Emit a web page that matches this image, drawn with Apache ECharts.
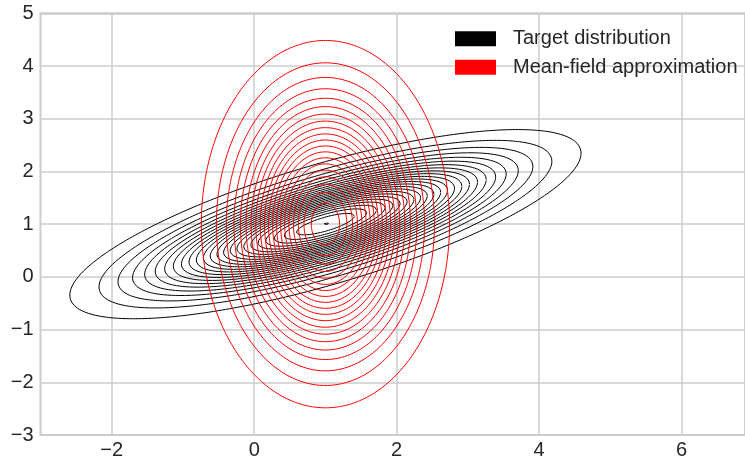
<!DOCTYPE html>
<html>
<head>
<meta charset="utf-8">
<script src="https://cdn.jsdelivr.net/npm/echarts@6/dist/echarts.min.js"></script>
<style>
html,body{margin:0;padding:0;background:#fff;}
#chart{width:745px;height:460px;}
</style>
</head>
<body>
<div id="chart"></div>
<script>
// ---- data ----
const targetName = 'Target distribution';
const approxName = 'Mean-field approximation';
const targetMean = [1, 1];
const targetCov = [[2.0, 0.75], [0.75, 0.5]];
const approxMean = [1, 1];
const approxVar = [0.5, 2.0];
const targetLevels = [0.00962, 0.01924, 0.02886, 0.03848, 0.0481, 0.05772, 0.06734, 0.07696, 0.08658, 0.0962,
  0.10582, 0.11544, 0.12506, 0.13468, 0.1443, 0.15392, 0.16354, 0.17316, 0.18278, 0.1924,
  0.20202, 0.21164, 0.22126, 0.23088, 0.2405];
const approxLevels = [0.00765, 0.0153, 0.02295, 0.0306, 0.03825, 0.0459, 0.05355, 0.0612, 0.06885, 0.0765,
  0.08415, 0.0918, 0.09945, 0.1071, 0.11475, 0.1224, 0.13005, 0.1377, 0.14535, 0.153];
const xTicks = [-2, 0, 2, 4, 6];
const yTicks = [-3, -2, -1, 0, 1, 2, 3, 4, 5];

// ---- contour ellipses of a Gaussian density at given levels ----
function contours(mean, cov, levels) {
  const det = cov[0][0] * cov[1][1] - cov[0][1] * cov[1][0];
  const peak = 1 / (2 * Math.PI * Math.sqrt(det));
  const l11 = Math.sqrt(cov[0][0]);
  const l21 = cov[1][0] / l11;
  const l22 = Math.sqrt(cov[1][1] - l21 * l21);
  const n = 360;
  return levels.map(function (lv) {
    const d = Math.sqrt(2 * Math.log(peak / lv));
    const pts = [];
    for (let i = 0; i <= n; i++) {
      const t = 2 * Math.PI * i / n;
      const c = Math.cos(t), s = Math.sin(t);
      pts.push([mean[0] + d * l11 * c, mean[1] + d * (l21 * c + l22 * s)]);
    }
    return pts;
  });
}

const targetCurves = contours(targetMean, targetCov, targetLevels);
const approxCurves = contours(approxMean, [[approxVar[0], 0], [0, approxVar[1]]], approxLevels);

function mkSeries(name, color, curves) {
  return curves.map(function (pts) {
    return {
      name: name, type: 'line', data: pts, showSymbol: false, symbol: 'none',
      smooth: false, silent: true, animation: false, clip: true,
      lineStyle: { color: color, width: 1 }, itemStyle: { color: color }
    };
  });
}

const series = mkSeries(targetName, '#000000', targetCurves)
  .concat(mkSeries(approxName, '#ff0000', approxCurves));

const font = 'Liberation Sans, Arial, sans-serif';
const txt = '#262626';
const fmt = function (v) { return String(v).replace('-', '\u2212'); };

const chart = echarts.init(document.getElementById('chart'), null, { renderer: 'canvas' });
chart.setOption({
  animation: false,
  backgroundColor: '#ffffff',
  grid: {
    left: 40.5, right: -2, top: 13.3, bottom: 23.3,
    show: true, borderColor: '#cccccc', borderWidth: 2, backgroundColor: 'transparent'
  },
  legend: {
    data: [targetName, approxName],
    orient: 'vertical', left: 450, top: 23.8,
    icon: 'rect', itemWidth: 41, itemHeight: 15, itemGap: 8.4,
    textStyle: { fontFamily: font, fontSize: 20, color: txt, lineHeight: 20, padding: [0, 0, 0, 12] },
    selectedMode: false
  },
  xAxis: {
    type: 'value', min: -3, max: 6.89,
    axisLine: { show: false },
    axisTick: { show: false, customValues: xTicks },
    axisLabel: { customValues: xTicks, formatter: fmt, fontFamily: font, fontSize: 20, color: txt, margin: 5 },
    splitLine: { show: true, lineStyle: { color: '#cccccc', width: 1.5 } }
  },
  yAxis: {
    type: 'value', min: -3, max: 5, interval: 1,
    axisLine: { show: false },
    axisTick: { show: false, customValues: yTicks },
    axisLabel: { customValues: yTicks, formatter: fmt, fontFamily: font, fontSize: 20, color: txt, margin: 7 },
    splitLine: { show: true, lineStyle: { color: '#cccccc', width: 1.5 } }
  },
  series: series
});
</script>
</body>
</html>
